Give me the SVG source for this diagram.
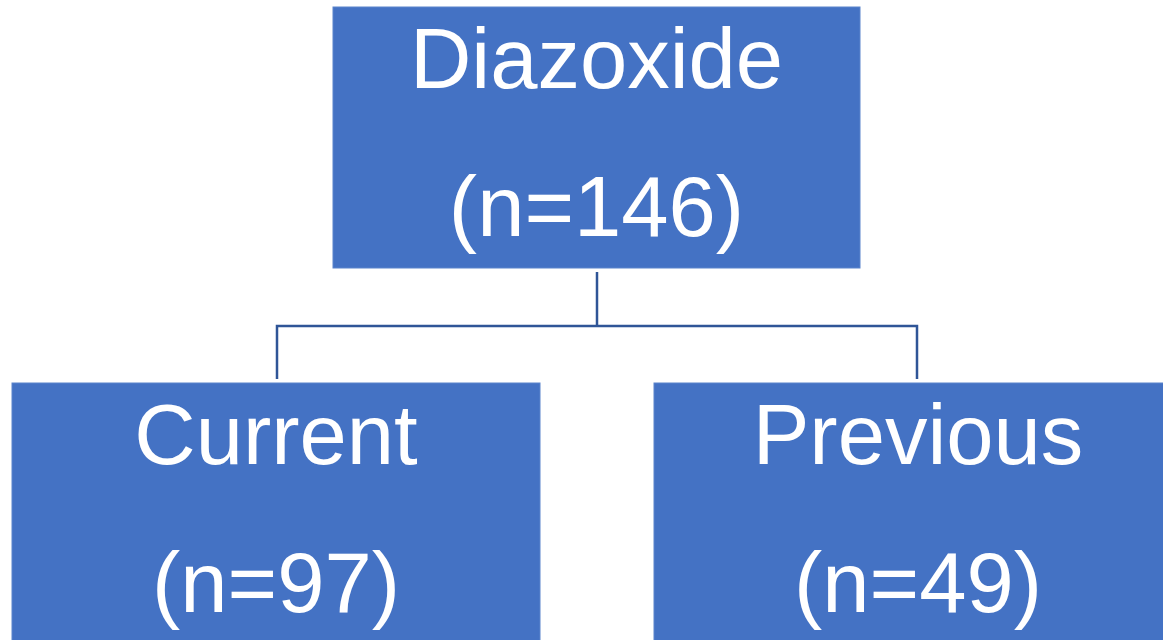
<svg xmlns="http://www.w3.org/2000/svg" width="1163" height="640" viewBox="0 0 1163 640">
<style>
.box{fill:#4472C4;stroke:#5B84CC;stroke-width:1}
.lbl{font-family:"Liberation Sans",Arial,sans-serif;font-size:85px;fill:#FFFFFF;text-anchor:middle}
.conn{fill:none;stroke:#2F5597;stroke-width:2.5}
</style>
<rect width="1163" height="640" fill="#FFFFFF"/>
<g id="connectors">
<path class="conn" d="M597 272 V326"/>
<path class="conn" d="M277 379 V326 H917 V379"/>
</g>
<g id="node-diazoxide">
<rect class="box" x="333" y="7" width="527" height="261"/>
<text class="lbl" x="596.5" y="88">Diazoxide</text>
<text class="lbl" x="596.5" y="236">(n=146)</text>
</g>
<g id="node-current">
<rect class="box" x="12" y="383" width="528" height="270"/>
<text class="lbl" x="276" y="464">Current</text>
<text class="lbl" x="276" y="612">(n=97)</text>
</g>
<g id="node-previous">
<rect class="box" x="654" y="383" width="528" height="270"/>
<text class="lbl" x="918" y="464">Previous</text>
<text class="lbl" x="918" y="612">(n=49)</text>
</g>
</svg>
